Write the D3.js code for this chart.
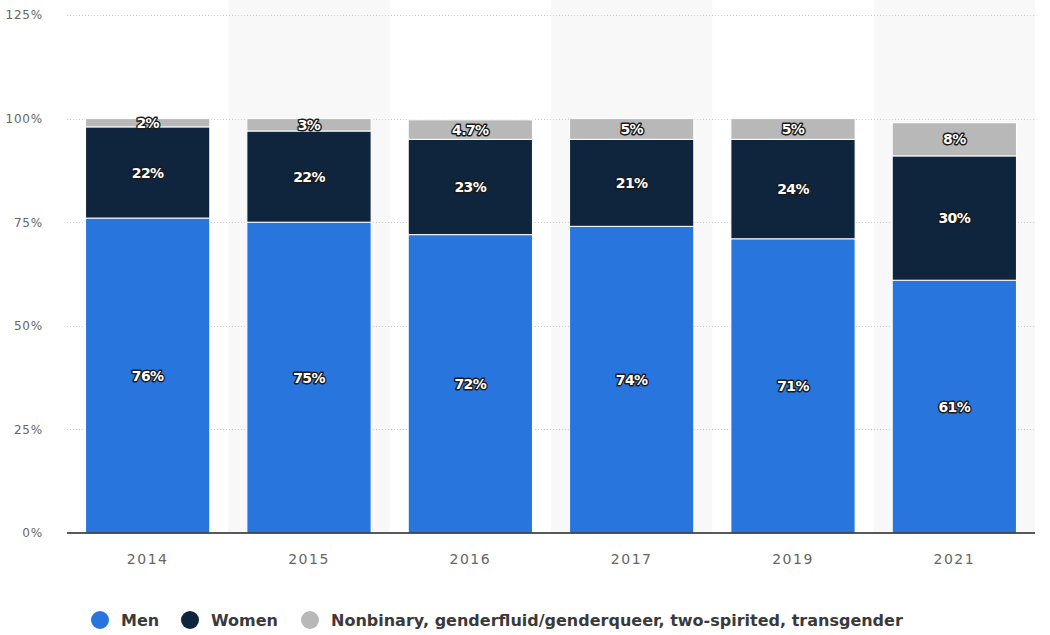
<!DOCTYPE html>
<html>
<head>
<meta charset="utf-8">
<script src="https://cdn.jsdelivr.net/npm/d3@7"></script>
<style>
  html, body { margin: 0; padding: 0; background: #fff; }
  svg { display: block; }
</style>
</head>
<body>
<svg id="chart" width="1050" height="635"></svg>
<script>
// Survey years and the share of respondents per gender group (percent)
const years = ["2014", "2015", "2016", "2017", "2019", "2021"];
const men = [76, 75, 72, 74, 71, 61];
const women = [22, 22, 23, 21, 24, 30];
const nonbinary = [2, 3, 4.7, 5, 5, 8];
const seriesNames = ["Men", "Women", "Nonbinary, genderfluid/genderqueer, two-spirited, transgender"];
const seriesColors = ["#2876dd", "#0f253d", "#b8b8b8"];
const yTicks = [0, 25, 50, 75, 100, 125];

const svg = d3.select("#chart");
const margin = { left: 67, right: 15, top: 15, bottom: 102 };
const W = 1050, H = 635;
const innerW = W - margin.left - margin.right;
const innerH = H - margin.top - margin.bottom;
const font = "'DejaVu Sans', Verdana, sans-serif";

const x = d3.scaleBand().domain(years).range([margin.left, margin.left + innerW]).paddingInner(0.23).paddingOuter(0.115);
const xOuter = d3.scaleBand().domain(years).range([margin.left, margin.left + innerW]).padding(0);
const y = d3.scaleLinear().domain([0, 125]).range([margin.top + innerH, margin.top]);

// alternating column shading
svg.append("g").selectAll("rect")
  .data(years.filter((d, i) => i % 2 === 1))
  .join("rect")
  .attr("x", d => xOuter(d))
  .attr("y", 0)
  .attr("width", xOuter.bandwidth())
  .attr("height", y(0))
  .attr("fill", "#f8f8f8");

// horizontal grid lines
svg.append("g").selectAll("line")
  .data(yTicks.filter(t => t > 0))
  .join("line")
  .attr("x1", margin.left).attr("x2", margin.left + innerW)
  .attr("y1", d => Math.round(y(d)) + 0.5).attr("y2", d => Math.round(y(d)) + 0.5)
  .attr("stroke", "#cfcfcf").attr("stroke-width", 1).attr("stroke-dasharray", "1,2");

// y-axis labels
const yAxis = d3.axisLeft(y).tickValues(yTicks).tickFormat(d => d + "%").tickSize(0).tickPadding(0);
const yg = svg.append("g").attr("transform", `translate(${margin.left - 24},0)`).call(yAxis);
yg.select(".domain").remove();
yg.selectAll("text").attr("fill", "#666").style("font-family", font).style("font-size", "12px").attr("letter-spacing", "0.8px");

// stacked bars
const rows = years.map((yr, i) => ({ year: yr, Men: men[i], Women: women[i], Other: nonbinary[i] }));
const keys = ["Men", "Women", "Other"];
const stacked = d3.stack().keys(keys)(rows);

const layers = svg.append("g").selectAll("g")
  .data(stacked)
  .join("g")
  .attr("fill", (d, i) => seriesColors[i]);

layers.selectAll("rect")
  .data(d => d)
  .join("rect")
  .attr("x", d => x(d.data.year))
  .attr("y", d => y(d[1]))
  .attr("width", x.bandwidth())
  .attr("height", d => y(d[0]) - y(d[1]))
  .attr("stroke", "#fff")
  .attr("stroke-width", 1);

// value labels
const labels = svg.append("g");
stacked.forEach((layer) => {
  layer.forEach(d => {
    const v = d.data[layer.key];
    labels.append("text")
      .attr("x", x(d.data.year) + x.bandwidth() / 2)
      .attr("y", y((d[0] + d[1]) / 2))
      .attr("dy", "0.36em")
      .attr("text-anchor", "middle")
      .style("font-family", font)
      .style("font-weight", "bold")
      .style("font-size", "14px")
      .attr("letter-spacing", "-0.6px")
      .attr("fill", "#fff")
      .attr("stroke", "#1b1b1b")
      .attr("stroke-width", 2.8)
      .attr("stroke-linejoin", "round")
      .attr("paint-order", "stroke")
      .text(v + "%");
  });
});

// x axis
const xAxis = d3.axisBottom(x).tickSize(0).tickPadding(21);
const xg = svg.append("g").attr("transform", `translate(0,${y(0)})`).call(xAxis);
xg.select(".domain").attr("stroke", "#222").attr("stroke-width", 1.3)
  .attr("d", `M${margin.left},0H${margin.left + innerW}`);
xg.selectAll("text").attr("fill", "#666").style("font-family", font).style("font-size", "14px").attr("letter-spacing", "1.5px");

// legend
const legendX = [100, 190, 310];
const legend = svg.append("g").attr("transform", "translate(0,620)");
seriesNames.forEach((name, i) => {
  legend.append("circle").attr("cx", legendX[i]).attr("cy", 0).attr("r", 9).attr("fill", seriesColors[i]);
  legend.append("text").attr("x", legendX[i] + 21).attr("y", 0).attr("dy", "0.35em")
    .style("font-family", font).style("font-size", "16px").style("font-weight", "bold")
    .attr("fill", "#3a3a3a").text(name);
});
</script>
</body>
</html>
